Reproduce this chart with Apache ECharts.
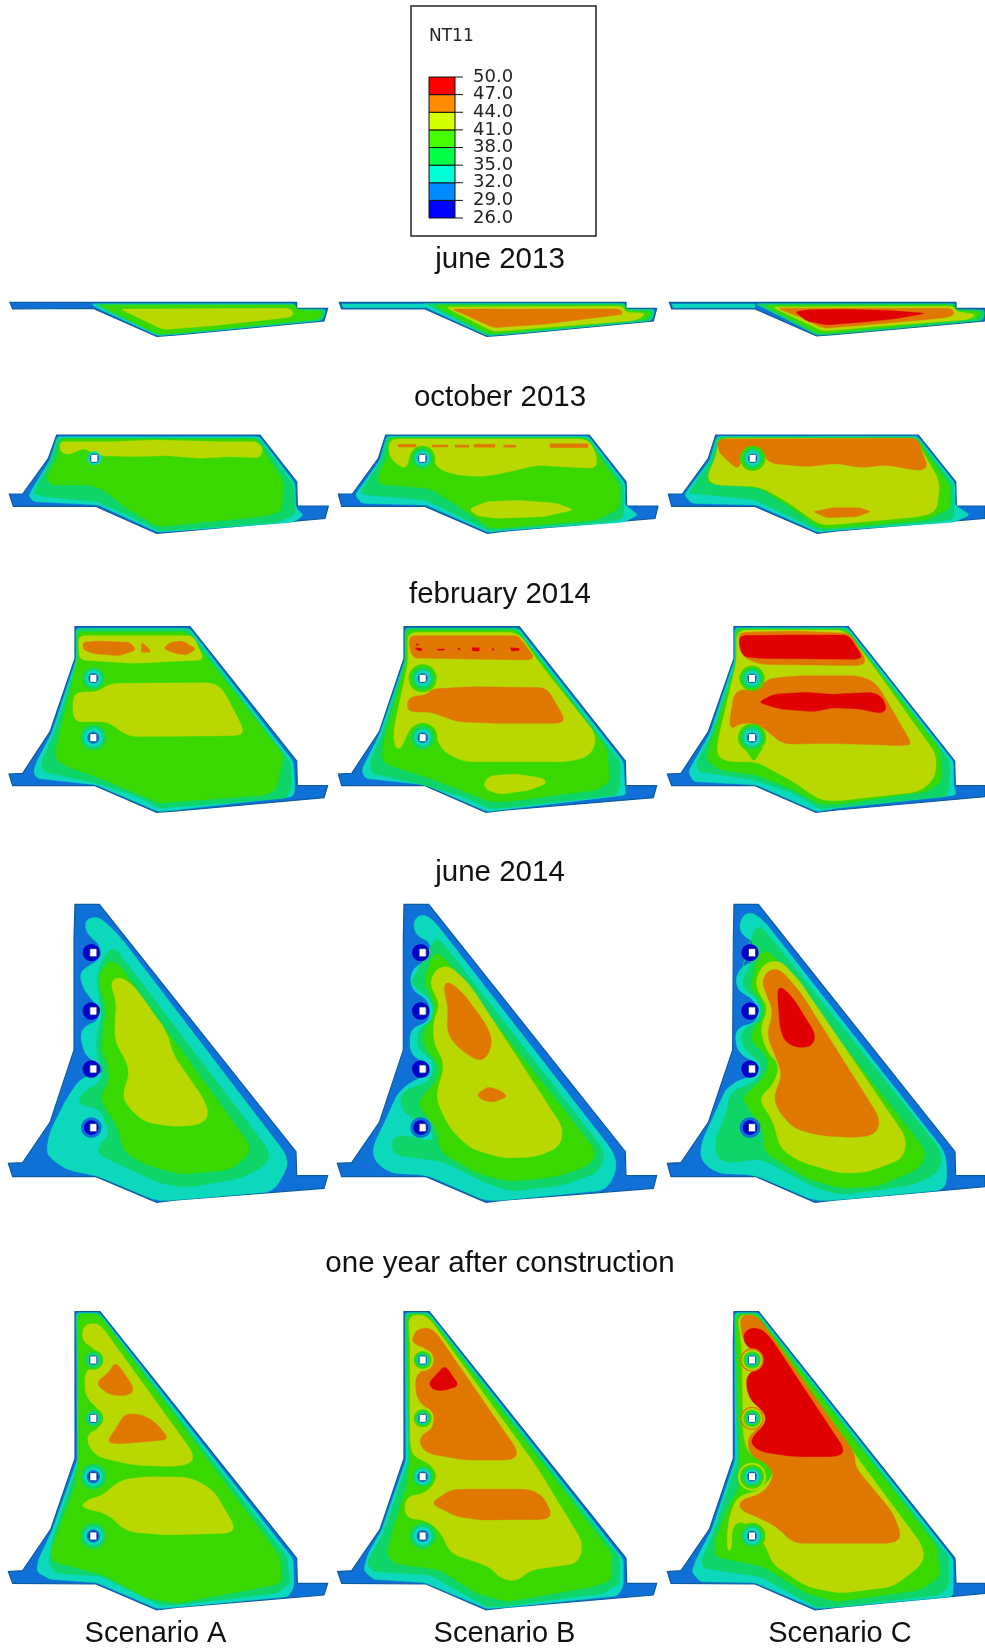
<!DOCTYPE html>
<html><head><meta charset="utf-8">
<style>html,body{margin:0;padding:0;background:#fff}#c{width:985px;height:1652px}</style>
<script src="https://cdn.jsdelivr.net/npm/echarts@6/dist/echarts.min.js"></script>
</head><body><div id="c"></div>
<script>
// ---------- legend ----------
const legendTitle = 'NT11';
const tickLabels = ['26.0','29.0','32.0','35.0','38.0','41.0','44.0','47.0','50.0'];
const bandLows = [26,29,32,35,38,41,44,47];
const legendColors = ['#0000ff','#008cff','#00ffd4','#00ff46','#46ff00','#d4ff00','#ff8c00','#ff0000'];
const fieldColors = ['#0000c8','#0f70d8','#0cd8bc','#0fd468','#38d800','#b8d800','#e07800','#e00000'];
const rowTitles = ['june 2013','october 2013','february 2014','june 2014','one year after construction'];
const scenarios = ['Scenario A','Scenario B','Scenario C'];

// ---------- temperature fields: [band lower bound, contour], in section units ----------
const jun13A = [
 [29,[[30,52],[890,52],[890,70],[983,70],[972,108],[530,150],[470,154],[280,70],[38,72]]],
 [32,[[272,56],[885,56],[885,73],[978,73],[968,106],[530,148],[472,152],[290,68]]],
 [35,[[282,58],[886,58],[888,72],[975,74],[966,105],[530,147],[473,150]]],
 [38,[[295,60],[885,60],[890,75],[970,78],[960,102],[530,144],[475,148]]],
 [41,[[360,72],[870,70],[882,85],[870,97],[640,122],[490,134],[440,110]]]];
const jun13B = [
 [29,[[28,52],[888,52],[888,70],[980,70],[970,108],[530,150],[470,154],[285,72],[35,72]]],
 [32,[[35,57],[285,57],[285,68],[40,68]]],
 [32,[[275,56],[885,56],[885,73],[975,73],[966,106],[530,148],[472,152],[290,68]]],
 [35,[[285,56],[885,56],[885,73],[972,75],[965,106],[530,147],[472,151]]],
 [38,[[310,60],[882,60],[885,76],[965,80],[955,102],[530,144],[475,147]]],
 [41,[[345,66],[880,64],[885,82],[950,85],[920,106],[640,128],[490,140]]],
 [44,[[365,72],[870,72],[880,88],[640,118],[490,128],[440,105]]]];
const jun13C = [
 [29,[[28,52],[888,52],[888,70],[975,70],[975,108],[530,148],[470,153],[285,72],[35,72]]],
 [32,[[35,57],[285,57],[285,68],[40,68]]],
 [35,[[285,56],[885,56],[885,73],[975,75],[970,106],[530,147],[472,151]]],
 [38,[[310,60],[882,60],[885,76],[965,80],[955,100],[530,143],[475,146]]],
 [41,[[335,66],[880,64],[888,80],[950,88],[925,104],[640,125],[490,139]]],
 [44,[[352,70],[875,70],[885,88],[860,98],[640,118],[490,130],[430,100]]],
 [47,[[405,80],[450,74],[560,73],[680,76],[797,85],[700,102],[600,112],[500,120],[440,108]]]];

const oct13A = [
 [29,[[170,450],[780,450],[890,590],[892,663],[985,663],[975,700],[530,740],[470,745],[288,664],[40,664],[28,627],[68,627],[145,520]]],
 [32,[[172,455],[778,455],[885,595],[888,670],[912,690],[880,712],[530,738],[475,742],[295,660],[100,650],[85,632],[150,525]]],
 [35,[[175,458],[775,458],[880,600],[885,660],[885,690],[830,712],[530,735],[478,738],[360,680],[290,650],[130,635],[100,625],[150,530]]],
 [38,[[178,462],[770,462],[850,590],[845,680],[780,695],[530,720],[475,725],[380,670],[310,615],[270,600],[150,600],[140,575],[175,510]]],
 [41,[[180,470],[260,470],[340,470],[460,465],[650,470],[770,470],[790,490],[780,518],[680,515],[600,520],[500,512],[400,515],[300,512],[250,490],[205,510],[180,500]]]];
const oct13B = [
 [29,[[167,450],[778,450],[888,590],[890,663],[984,663],[975,700],[530,738],[472,745],[285,664],[35,664],[25,627],[67,627],[145,520]]],
 [32,[[170,454],[775,454],[885,595],[885,660],[925,690],[880,712],[530,736],[475,742],[290,660],[95,655],[75,630],[150,525]]],
 [35,[[172,456],[772,456],[880,598],[882,680],[880,700],[840,710],[530,733],[478,738],[360,680],[285,645],[110,630],[90,625],[150,530]]],
 [38,[[174,458],[770,458],[868,600],[870,670],[800,705],[530,728],[480,730],[380,660],[300,610],[145,598],[145,570],[175,505]]],
 [41,[[180,462],[775,462],[800,510],[800,550],[690,545],[620,540],[540,560],[460,575],[380,570],[320,550],[310,510],[280,485],[240,500],[230,555],[190,530],[175,500]]],
 [41,[[417,672],[470,650],[570,646],[680,655],[732,675],[640,695],[500,700],[440,692]]],
 [44,[[204,478],[258,478],[258,486],[204,486]]],
 [44,[[306,480],[354,480],[354,486],[306,486]]],
 [44,[[375,480],[417,480],[417,487],[375,487]]],
 [44,[[432,478],[495,478],[495,487],[432,487]]],
 [44,[[521,480],[558,480],[558,487],[521,487]]],
 [44,[[660,476],[774,476],[774,488],[660,488]]]];
const oct13C = [
 [29,[[167,450],[775,450],[887,590],[889,663],[975,663],[975,700],[530,738],[472,745],[285,664],[35,664],[25,627],[67,627],[145,520]]],
 [32,[[170,454],[772,454],[885,595],[885,660],[930,690],[880,712],[530,736],[475,742],[290,660],[95,655],[72,630],[150,525]]],
 [35,[[172,456],[770,456],[880,598],[882,680],[880,700],[840,710],[530,733],[478,738],[360,680],[285,645],[100,625],[85,625],[150,530]]],
 [38,[[174,458],[768,458],[868,600],[870,670],[800,705],[530,728],[480,730],[380,660],[300,610],[140,595],[145,570],[175,505]]],
 [41,[[175,460],[765,460],[840,590],[830,680],[780,695],[530,718],[480,720],[380,650],[300,605],[160,600],[140,575],[170,510]]],
 [44,[[172,462],[775,460],[785,500],[805,545],[780,558],[680,540],[600,548],[530,535],[440,545],[330,535],[300,500],[270,490],[245,520],[235,555],[200,525],[175,500]]],
 [44,[[460,680],[520,668],[600,668],[632,680],[590,695],[500,698]]]];

const feb14A = [
 [29,[[225,35],[570,35],[890,438],[892,512],[983,512],[972,548],[530,588],[470,592],[285,512],[38,512],[27,477],[68,475],[150,350],[225,130]]],
 [32,[[228,40],[568,40],[880,440],[885,515],[880,545],[530,585],[475,590],[290,510],[110,490],[100,470],[110,440],[155,355],[228,135]]],
 [35,[[228,42],[565,42],[870,440],[875,510],[860,550],[530,575],[480,580],[400,540],[290,505],[130,470],[125,440],[160,360],[232,140]]],
 [38,[[232,50],[560,50],[630,140],[850,420],[830,520],[800,540],[530,560],[480,565],[300,490],[190,450],[165,430],[170,390],[232,135]]],
 [41,[[235,62],[580,62],[612,135],[400,145],[238,135]]],
 [44,[[248,82],[300,78],[390,82],[408,105],[360,122],[280,116],[250,104]]],
 [44,[[425,82],[447,100],[452,112],[423,112]]],
 [44,[[490,100],[510,82],[550,78],[588,102],[560,120],[520,114]]],
 [41,[[330,205],[640,203],[670,225],[732,345],[720,362],[400,365],[370,355],[325,320],[270,320],[220,320],[218,250],[235,230],[290,232]]]];
const feb14B = [
 [29,[[222,35],[568,35],[886,438],[888,512],[980,512],[970,548],[530,585],[468,592],[285,512],[35,512],[25,477],[65,475],[148,350],[222,130]]],
 [32,[[225,40],[565,40],[880,440],[885,520],[888,540],[530,583],[472,590],[288,510],[105,490],[95,465],[150,355],[225,135]]],
 [35,[[225,40],[560,40],[870,440],[870,510],[860,540],[530,578],[480,582],[400,545],[280,510],[125,475],[120,440],[155,360],[225,140]]],
 [38,[[228,45],[558,45],[625,130],[830,400],[840,500],[800,525],[530,560],[480,560],[300,490],[175,450],[155,430],[160,380],[228,140]]],
 [41,[[232,52],[565,52],[625,140],[800,360],[785,420],[720,440],[400,440],[340,410],[320,370],[290,325],[240,335],[215,400],[195,400],[190,350],[235,140]]],
 [41,[[460,505],[480,482],[560,477],[640,490],[650,505],[600,525],[510,538],[470,525]]],
 [44,[[238,62],[565,62],[612,125],[600,135],[300,130],[250,130],[238,100]]],
 [44,[[305,222],[430,215],[650,218],[705,312],[690,325],[500,325],[380,320],[300,290],[240,292],[230,270],[240,245],[290,240]]],
 [47,[[255,98],[275,100],[275,108],[262,106]]],
 [47,[[320,102],[345,102],[340,106],[325,106]]],
 [47,[[425,98],[448,98],[448,108],[428,108]]],
 [47,[[540,98],[568,100],[568,106],[545,108]]],
 [47,[[382,100],[390,100],[390,106]]],
 [47,[[485,100],[492,102],[490,108]]],
 [47,[[258,85],[266,88],[262,93]]]];
const feb14C = [
 [29,[[222,35],[565,35],[884,438],[886,512],[975,512],[975,545],[530,585],[468,592],[285,512],[35,512],[22,477],[63,475],[145,350],[222,130]]],
 [32,[[224,38],[563,38],[880,440],[882,515],[890,540],[530,580],[472,590],[290,510],[100,500],[85,470],[150,355],[224,135]]],
 [35,[[225,40],[560,40],[870,440],[868,510],[860,545],[530,577],[480,582],[400,535],[285,495],[115,470],[110,440],[155,360],[226,140]]],
 [38,[[227,42],[558,42],[640,150],[840,400],[845,500],[800,530],[530,568],[480,568],[390,520],[290,480],[180,465],[140,435],[150,390],[228,150]]],
 [41,[[230,45],[556,45],[630,140],[830,420],[825,490],[780,530],[530,558],[480,555],[400,500],[290,440],[200,440],[170,420],[175,370],[230,140]]],
 [38,[[250,395],[310,395],[282,440]]],
 [44,[[238,52],[400,48],[570,55],[620,140],[600,152],[300,148],[245,125],[236,80]]],
 [47,[[240,62],[400,60],[565,60],[608,125],[590,133],[300,130],[250,125],[237,90]]],
 [44,[[310,205],[330,190],[420,182],[600,182],[650,205],[755,385],[740,392],[500,385],[370,388],[330,355],[290,325],[240,325],[215,342],[208,320],[225,225],[280,225]]],
 [47,[[295,262],[340,238],[440,232],[520,238],[640,232],[668,248],[680,285],[660,295],[600,282],[520,278],[460,290],[360,282]]]];

const jun14A = [
 [29,[[225,28],[298,28],[888,770],[890,842],[983,842],[972,880],[530,915],[470,922],[288,845],[38,845],[25,805],[68,803],[150,682],[222,465],[222,130]]],
 [32,[[255,100],[258,75],[285,65],[310,75],[360,125],[860,780],[862,820],[820,890],[530,915],[470,918],[290,842],[200,825],[145,785],[140,760],[150,710],[200,610],[245,545],[305,540],[310,510],[260,490],[240,430],[250,395],[300,375],[290,330],[255,290],[240,250],[245,225],[305,190],[300,150],[270,125]]],
 [35,[[295,220],[330,158],[350,165],[810,770],[800,810],[720,850],[560,878],[480,865],[340,800],[290,775],[305,740],[330,720],[300,640],[235,630],[240,600],[300,560],[310,530],[290,480],[290,420],[305,370],[300,320],[290,260]]],
 [38,[[295,250],[320,200],[350,200],[750,750],[745,780],[690,825],[540,838],[440,810],[370,770],[355,700],[310,630],[300,600],[330,560],[320,500],[305,470],[310,400],[320,340],[300,280]]],
 [41,[[330,265],[355,243],[400,270],[500,410],[520,480],[610,610],[628,660],[600,690],[520,695],[430,680],[375,625],[370,590],[388,540],[380,500],[345,440],[345,380],[350,320]]]];
const jun14B = [
 [29,[[222,28],[296,28],[886,770],[888,842],[980,842],[970,880],[530,915],[468,922],[288,845],[35,845],[22,805],[65,803],[148,682],[220,465],[220,130]]],
 [32,[[250,100],[255,70],[280,58],[310,75],[850,770],[862,820],[830,885],[530,915],[468,918],[290,840],[180,835],[130,795],[130,750],[160,690],[205,590],[260,550],[300,545],[300,510],[240,480],[240,400],[300,380],[300,320],[240,280],[245,220],[305,190],[300,140],[265,125]]],
 [35,[[245,260],[315,130],[335,140],[825,770],[810,830],[700,870],[540,890],[460,860],[340,800],[190,780],[185,730],[225,720],[300,740],[315,720],[210,640],[215,590],[300,560],[315,500],[260,460],[265,400],[310,375],[310,320],[250,270]]],
 [38,[[280,260],[310,175],[335,180],[800,770],[780,810],[680,845],[540,860],[440,835],[330,770],[320,700],[270,640],[270,610],[320,560],[330,510],[285,460],[280,410],[310,370],[310,310]]],
 [41,[[300,260],[320,220],[360,212],[420,270],[700,700],[690,755],[620,785],[520,790],[420,760],[360,700],[325,630],[320,590],[345,510],[310,440],[310,380],[330,330],[310,290]]],
 [44,[[340,275],[355,258],[400,295],[470,390],[488,440],[470,490],[440,497],[380,455],[350,410],[355,340]]],
 [44,[[440,598],[475,575],[515,588],[532,605],[490,622],[455,615]]]];
const jun14C = [
 [29,[[222,28],[295,28],[885,770],[887,842],[975,842],[975,875],[530,915],[465,922],[288,845],[33,845],[22,805],[63,803],[145,682],[218,465],[220,130]]],
 [32,[[238,90],[250,60],[275,52],[310,75],[855,770],[862,830],[855,885],[530,915],[465,918],[285,840],[170,835],[120,795],[125,740],[190,600],[200,580],[245,550],[295,545],[295,510],[230,470],[225,400],[295,380],[290,320],[225,280],[235,220],[300,190],[290,145],[245,120]]],
 [35,[[235,260],[285,95],[310,100],[845,770],[840,830],[760,870],[540,900],[460,875],[300,790],[210,805],[170,790],[165,730],[200,655],[210,590],[290,560],[310,510],[250,460],[240,410],[300,375],[300,320],[240,270],[280,190],[275,120]]],
 [38,[[280,240],[300,170],[330,170],[800,770],[780,820],[650,875],[540,880],[440,850],[310,770],[315,720],[260,630],[245,610],[320,540],[325,480],[270,440],[285,390],[310,375],[310,320],[270,280]]],
 [41,[[285,260],[310,205],[360,195],[420,260],[740,730],[730,790],[620,832],[540,835],[420,800],[360,760],[340,680],[295,610],[340,570],[360,510],[320,470],[300,400],[325,340],[300,300]]],
 [44,[[305,260],[325,225],[360,222],[420,290],[660,670],[650,715],[600,728],[480,722],[400,700],[350,640],[342,600],[368,540],[345,480],[320,420],[340,350],[320,300]]],
 [47,[[352,285],[365,275],[400,310],[468,420],[455,455],[410,458],[375,440],[360,400]]]];

const yearA = [
 [29,[[225,35],[300,35],[890,775],[892,850],[983,850],[972,885],[530,922],[470,930],[288,852],[38,850],[25,815],[68,812],[152,688],[225,475],[225,130]]],
 [32,[[228,38],[298,38],[880,778],[882,860],[865,890],[530,922],[472,926],[290,848],[150,838],[110,815],[115,780],[155,695],[232,480],[230,135]]],
 [35,[[230,40],[296,40],[860,770],[870,850],[830,880],[530,915],[480,915],[300,828],[170,820],[145,790],[160,710],[238,480],[232,135]]],
 [38,[[232,42],[296,42],[840,770],[845,850],[800,860],[530,910],[440,895],[310,825],[160,785],[150,760],[175,690],[225,560],[235,480],[232,135]]],
 [41,[[248,85],[265,70],[300,72],[580,460],[575,490],[520,500],[400,495],[290,470],[262,430],[265,400],[300,385],[300,330],[255,290],[255,210],[300,195],[290,150],[248,125]]],
 [41,[[360,540],[440,530],[570,532],[640,570],[705,680],[690,700],[500,705],[380,695],[320,640],[250,625],[248,610],[275,595],[310,585]]],
 [44,[[345,185],[370,215],[405,270],[380,288],[330,285],[295,260],[295,240],[325,220]]],
 [44,[[375,340],[430,345],[470,370],[508,418],[440,425],[350,432],[320,425],[345,390]]]];
const yearB = [
 [29,[[222,35],[298,35],[888,775],[890,850],[980,850],[970,885],[530,922],[468,930],[288,852],[35,850],[23,815],[65,812],[150,688],[222,475],[222,130]]],
 [32,[[226,38],[296,38],[880,778],[880,860],[862,888],[530,922],[470,926],[285,848],[130,838],[100,810],[115,760],[155,690],[228,480],[226,135]]],
 [35,[[228,40],[294,40],[868,770],[868,850],[820,880],[530,918],[470,920],[300,825],[130,815],[110,790],[160,700],[235,480],[228,135]]],
 [38,[[230,42],[292,42],[845,760],[845,840],[790,860],[530,905],[440,880],[330,810],[190,790],[170,760],[200,650],[230,560],[240,480],[232,135]]],
 [41,[[235,45],[290,45],[620,500],[760,730],[745,790],[600,810],[560,845],[510,835],[480,800],[360,760],[335,700],[290,660],[225,655],[225,590],[290,580],[325,530],[300,490],[250,470],[240,430],[240,135]]],
 [44,[[248,110],[265,85],[310,85],[565,455],[550,480],[400,480],[290,460],[268,430],[275,405],[310,385],[310,340],[260,300],[255,225],[300,200],[300,150],[248,130]]],
 [44,[[302,610],[365,568],[600,568],[640,590],[665,640],[650,658],[450,660],[380,650]]],
 [47,[[295,250],[345,195],[388,258],[340,272],[310,270]]]];
const yearC = [
 [29,[[222,35],[296,35],[885,775],[888,850],[975,850],[975,880],[530,922],[465,930],[285,852],[33,850],[22,815],[63,812],[148,688],[220,475],[220,130]]],
 [32,[[224,38],[294,38],[880,778],[880,860],[878,890],[530,922],[468,926],[285,848],[120,845],[95,815],[110,775],[155,690],[226,480],[224,135]]],
 [35,[[226,40],[292,40],[865,770],[865,860],[840,885],[530,920],[470,922],[300,830],[130,805],[125,780],[160,700],[232,480],[226,135]]],
 [38,[[228,42],[290,42],[830,740],[840,830],[780,870],[530,905],[440,880],[310,800],[165,770],[165,720],[205,620],[235,570],[240,480],[228,135]]],
 [41,[[232,45],[288,45],[590,470],[790,740],[790,790],[700,860],[540,880],[440,860],[335,790],[320,740],[250,660],[215,680],[215,750],[200,750],[205,660],[230,590],[300,570],[345,520],[320,490],[265,460],[250,410],[245,135]]],
 [44,[[238,45],[290,45],[585,460],[585,500],[700,640],[725,710],[700,730],[400,730],[350,680],[290,650],[240,630],[240,600],[310,580],[345,525],[320,490],[270,465],[262,420],[280,395],[315,370],[315,340],[265,295],[255,225],[305,200],[305,160],[250,130]]],
 [47,[[248,110],[265,85],[300,85],[330,110],[555,450],[535,470],[400,470],[300,455],[272,430],[282,405],[315,375],[318,340],[265,295],[258,225],[305,200],[305,165],[260,140]]]];

// ---------- gallery openings: [x, y, rings of [band, radius]] ----------
const ringsHalo = [[38,38],[35,30],[32,22],[29,14]];
const ringsThin = [[32,21],[29,14]];
const ringsMid  = [[35,32],[32,24],[29,15]];
const ringsCold = [[26,26]];
const ringsColdWide = [[29,31],[26,22]];
const ringsYearLow = [[35,38],[32,28],[29,20],[26,14]];
const ringsYearTopA = [[38,30],[35,24],[32,17],[29,13]];
const ringsYearTopB = [[41,33],[38,27],[35,21],[32,17],[29,13]];
const ringsYearTopC = [[44,35],[41,31],[38,26],[35,21],[32,17],[29,13]];
const holes = {
 oct13A:[[283,520,ringsThin]], oct13B:[[277,520,ringsHalo]], oct13C:[[278,520,ringsHalo]],
 feb14A:[[280,190,ringsMid],[280,368,[[35,38],[32,28],[29,18]]]],
 feb14B:[[278,190,[[38,42],[35,32],[32,24],[29,15]]],[278,368,[[38,44],[35,34],[32,25],[29,16]]]],
 feb14C:[[276,190,ringsHalo],[276,368,[[38,42],[35,34],[32,25],[29,15]]]],
 jun14A:[[280,173,ringsCold],[280,348,ringsCold],[280,522,ringsCold],[280,698,ringsColdWide]],
 jun14B:[[278,173,ringsCold],[278,348,ringsCold],[278,522,ringsCold],[278,698,ringsColdWide]],
 jun14C:[[276,173,ringsCold],[276,348,ringsCold],[276,522,ringsCold],[276,698,ringsColdWide]],
 yearA:[[280,180,ringsYearTopA],[280,355,ringsYearTopA],[280,530,ringsYearLow],[280,708,ringsYearLow]],
 yearB:[[278,180,ringsYearTopB],[278,355,ringsYearTopB],[278,530,[[38,38],[35,30],[32,24],[29,16]]],[278,708,[[35,38],[32,28],[29,18]]]],
 yearC:[[276,180,ringsYearTopC],[276,355,ringsYearTopC],[276,530,[[41,42],[38,36],[35,28],[32,22],[29,15]]],[276,708,[[38,40],[35,32],[32,24],[29,15]]]]
};

// ---------- layout ----------
const columns = [[0,340],[330,330],[660,325]];
const rows = [
 {top:285,h:130,y0:0,  panels:[jun13A,jun13B,jun13C],names:['jun13A','jun13B','jun13C']},
 {top:415,h:130,y0:390,panels:[oct13A,oct13B,oct13C],names:['oct13A','oct13B','oct13C']},
 {top:615,h:200,y0:0,  panels:[feb14A,feb14B,feb14C],names:['feb14A','feb14B','feb14C']},
 {top:895,h:320,y0:0,  panels:[jun14A,jun14B,jun14C],names:['jun14A','jun14B','jun14C']},
 {top:1300,h:320,y0:0, panels:[yearA,yearB,yearC],names:['yearA','yearB','yearC']}
];
const titleY = [260,398,595,873,1264];
const colorOf = t => fieldColors[bandLows.indexOf(t)];

// rounded contour: cuts each corner by a bounded amount, stays inside the polygon
function rounded(pts, maxCut, it) {
  let p = pts;
  for (let k = 0; k < it; k++) {
    const out = []; const c = maxCut / Math.pow(2, k);
    for (let i = 0; i < p.length; i++) {
      const a = p[i], b = p[(i + 1) % p.length];
      const len = Math.hypot(b[0]-a[0], b[1]-a[1]) || 1;
      const d = Math.min(0.25, c / len);
      out.push([a[0]+(b[0]-a[0])*d, a[1]+(b[1]-a[1])*d]);
      out.push([b[0]-(b[0]-a[0])*d, b[1]-(b[1]-a[1])*d]);
    }
    p = out;
  }
  return p;
}
function cutFor(layer, rowIndex) {
  const xs = layer[1].map(p=>p[0]), ys = layer[1].map(p=>p[1]);
  const minDim = Math.min(Math.max(...xs)-Math.min(...xs), Math.max(...ys)-Math.min(...ys));
  const base = rowIndex === 3 ? 16 : (layer[0] <= 35 ? 6 : layer[0] === 38 ? 10 : 16);
  return Math.min(base, minDim / 8);
}

const grid = [], xAxis = [], yAxis = [], series = [];
rows.forEach((row, r) => {
  row.panels.forEach((layers, c) => {
    const gi = grid.length;
    grid.push({left:columns[c][0], top:row.top, width:columns[c][1], height:row.h});
    xAxis.push({type:'value', gridIndex:gi, min:0, max:columns[c][1]*3, show:false});
    yAxis.push({type:'value', gridIndex:gi, min:row.y0, max:row.y0+row.h*3, inverse:true, show:false});
    const hs = holes[row.names[c]] || [];
    series.push({
      type:'custom', xAxisIndex:gi, yAxisIndex:gi, clip:false, silent:true,
      data:layers.map((l,i)=>[l[1][0][0], l[1][0][1], i]),
      renderItem(params, api) {
        const l = layers[params.dataIndex];
        const isOutline = params.dataIndex === 0;
        const pts = (isOutline ? l[1] : rounded(l[1], cutFor(l, r), 3)).map(p => api.coord(p));
        return {type:'polygon', shape:{points:pts},
          style: isOutline ? {fill:colorOf(l[0]), stroke:'#0d5c9c', lineWidth:1.2}
                           : {fill:colorOf(l[0]), stroke:colorOf(l[0]), lineWidth:0.4}};
      }
    });
    if (hs.length) series.push({
      type:'custom', xAxisIndex:gi, yAxisIndex:gi, clip:false, silent:true,
      data:hs.map(h=>[h[0],h[1]]),
      renderItem(params, api) {
        const h = hs[params.dataIndex];
        const o = api.coord([h[0],h[1]]);
        const scale = api.size([1,0])[0];
        const kids = h[2].map(ring => ({type:'circle', shape:{cx:o[0]-(h[2][0][0]<=29?2:0), cy:o[1], r:ring[1]*scale},
          style:{fill:colorOf(ring[0])}}));
        kids.push({type:'rect', shape:{x:o[0]-3.5, y:o[1]-4, width:7, height:8, r:1},
          style:{fill:'#fff', stroke:'#123f86', lineWidth:0.8}});
        return {type:'group', children:kids};
      }
    });
  });
});

// legend colour bar on its own axis (band index); ticks and temperature labels follow that axis
const legendGrid = grid.length;
grid.push({left:429, top:77, width:26, height:141});
xAxis.push({type:'value', gridIndex:legendGrid, min:0, max:1, show:false});
yAxis.push({type:'value', gridIndex:legendGrid, min:0, max:8, interval:1, show:false});
const legendTick = (x, y, i) => [
  {type:'line', shape:{x1:x, y1:y, x2:x+8, y2:y}, style:{stroke:'#111', lineWidth:1}},
  {type:'text', x:x+18, y:y, style:{text:tickLabels[i], fontFamily:'DejaVu Sans', fontSize:18, fill:'#222',
    textAlign:'left', textVerticalAlign:'middle'}}
];
series.push({
  type:'custom', xAxisIndex:legendGrid, yAxisIndex:legendGrid, silent:true, clip:false,
  data:bandLows.map((b,i)=>[0,i]),
  renderItem(params, api) {
    const i = params.dataIndex;
    const a = api.coord([0,i+1]), b = api.coord([1,i]);
    let kids = [{type:'rect', shape:{x:a[0], y:a[1], width:b[0]-a[0], height:b[1]-a[1]},
       style:{fill:legendColors[i], stroke:'#111', lineWidth:1}}];
    kids = kids.concat(legendTick(b[0], a[1], i+1));
    if (i === 0) kids = kids.concat(legendTick(b[0], b[1], 0));
    return {type:'group', children:kids};
  }
});

const textStyle = (t,x,y,size,align,font,col) => ({type:'text', x, y,
  style:{text:t, fontFamily:font||'Liberation Sans', fontSize:size, fill:col||'#111', textAlign:align||'center', textVerticalAlign:'middle'}});
const graphics = [
  {type:'rect', shape:{x:411, y:6, width:185, height:230}, style:{fill:'#fff', stroke:'#222', lineWidth:1.5}, z:-1},
  textStyle(legendTitle,429,37,17,'left','DejaVu Sans','#222')
];
rowTitles.forEach((t,i)=>graphics.push(textStyle(t,500,titleY[i],29.5)));
scenarios.forEach((t,i)=>graphics.push(textStyle(t,[155.5,504.5,840][i],1634,29)));

const chart = echarts.init(document.getElementById('c'), null, {renderer:'canvas', width:985, height:1652});
chart.setOption({animation:false, backgroundColor:'#fff', grid, xAxis, yAxis, series, graphic:{elements:graphics}, tooltip:{show:false}});
</script></body></html>
